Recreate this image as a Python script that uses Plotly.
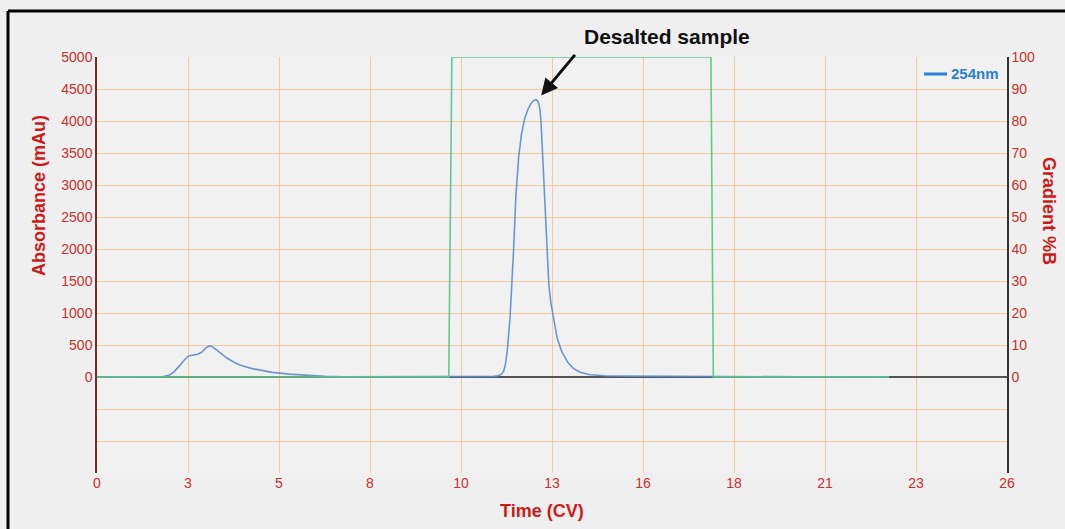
import plotly.graph_objects as go

# ---- data ----
time_cv = [0, 1.0, 1.6, 1.9, 2.05, 2.2, 2.35, 2.5, 2.62, 2.75, 2.9, 3.0, 3.1, 3.2, 3.28,
           3.4, 3.55, 3.7, 3.9, 4.1, 4.4, 4.7, 5.0, 5.5, 6.0, 6.5, 7.0, 7.5, 8.0, 8.5,
           9.0, 9.5, 10.0, 10.5, 11.0, 11.3, 11.45, 11.55, 11.62, 11.67, 11.72, 11.8,
           11.9, 11.97, 12.05, 12.13, 12.22, 12.31, 12.39, 12.47, 12.54, 12.59, 12.63,
           12.66, 12.69, 12.73, 12.78, 12.87, 12.91, 12.97, 13.04, 13.15, 13.28, 13.45,
           13.61, 13.8, 14.09, 14.5, 15.0, 16.0, 17.0, 18.0, 19.0, 20.0, 21.0, 22.0, 22.63]
abs_254 = [0, 0, 2, 8, 25, 80, 170, 270, 330, 345, 360, 390, 450, 485, 478,
           430, 360, 300, 235, 185, 135, 100, 72, 45, 22, 10, 5, 6, 12, 15,
           14, 10, 8, 6, 5, 8, 18, 40, 90, 200, 400, 917,
           1958, 2850, 3450, 3800, 4040, 4180, 4265, 4315, 4332, 4315, 4260,
           4160, 3950, 3520, 3000, 1958, 1437, 1150, 917, 600, 396, 230,
           135, 75, 35, 20, 14, 10, 8, 8, 6, 3, 2, 1, 1]

grad_time = [0, 10.05, 10.14, 17.54, 17.61, 22.63]
grad_pct = [0, 0, 100, 100, 0, 0]

x_tickvals = [0, 2.6, 5.2, 7.8, 10.4, 13.0, 15.6, 18.2, 20.8, 23.4, 26.0]
x_ticktext = ["0", "3", "5", "8", "10", "13", "16", "18", "21", "23", "26"]
y_tickvals = [-1500, -1000, -500, 0, 500, 1000, 1500, 2000, 2500, 3000, 3500, 4000, 4500, 5000]
y_ticktext = ["", "", "", "0", "500", "1000", "1500", "2000", "2500", "3000", "3500", "4000", "4500", "5000"]
y2_tickvals = [0, 10, 20, 30, 40, 50, 60, 70, 80, 90, 100]
y2_ticktext = [str(v) for v in y2_tickvals]

FONT = "Liberation Sans, Arial, sans-serif"
RED = "#c9302c"
TITLE_RED = "#cc1a1a"
GRID = "#f0cc9c"
BLUE = "rgba(95,140,200,0.9)"

fig = go.Figure()
fig.add_trace(go.Scatter(x=grad_time, y=grad_pct, yaxis="y2", mode="lines",
                         line=dict(color="#62c98f", width=1.6), showlegend=False,
                         hoverinfo="skip"))
fig.add_trace(go.Scatter(x=time_cv, y=abs_254, mode="lines", name="254nm",
                         line=dict(color=BLUE, width=1.6),
                         showlegend=False))

fig.update_layout(
    width=1065, height=529,
    margin=dict(l=97, r=58, t=57, b=56),
    paper_bgcolor="#efefef", plot_bgcolor="#f1f1f1",
    font=dict(family=FONT, color=RED, size=14),
    xaxis=dict(range=[0, 26], tickvals=x_tickvals, ticktext=x_ticktext,
               showgrid=True, gridcolor=GRID, gridwidth=1,
               zeroline=False, showline=False, ticks="",
               tickfont=dict(color=RED, size=14, family=FONT)),
    yaxis=dict(range=[-1500, 5000], tickvals=y_tickvals, ticktext=y_ticktext,
               showgrid=True, gridcolor=GRID, gridwidth=1,
               zeroline=True, zerolinecolor="#555555", zerolinewidth=1.6,
               showline=True, linecolor="#7a2a2a", linewidth=1.5, ticks="",
               tickfont=dict(color=RED, size=14, family=FONT)),
    yaxis2=dict(range=[-30, 100], tickvals=y2_tickvals, ticktext=y2_ticktext,
                overlaying="y", side="right", showgrid=False, zeroline=False,
                showline=True, linecolor="#333333", linewidth=1.5, ticks="",
                tickfont=dict(color=RED, size=14, family=FONT)),
)

def px_x(p):
    return (p - 97) / 910

def px_y(p):
    return (473 - p) / 416

# axis titles
fig.add_annotation(text="<b>Absorbance (mAu)</b>", xref="paper", yref="paper",
                   x=px_x(39), y=px_y(196), textangle=-90, showarrow=False,
                   xanchor="center", yanchor="middle",
                   font=dict(size=18, color=TITLE_RED, family=FONT))
fig.add_annotation(text="<b>Gradient %B</b>", xref="paper", yref="paper",
                   x=px_x(1049), y=px_y(211), textangle=90, showarrow=False,
                   xanchor="center", yanchor="middle",
                   font=dict(size=18, color=TITLE_RED, family=FONT))
fig.add_annotation(text="<b>Time (CV)</b>", xref="paper", yref="paper",
                   x=px_x(542), y=px_y(511), showarrow=False,
                   xanchor="center", yanchor="middle",
                   font=dict(size=18, color=TITLE_RED, family=FONT))

# legend (drawn as text + short line)
fig.add_annotation(text="<b>254nm</b>", xref="paper", yref="paper",
                   x=px_x(1001), y=px_y(74), showarrow=False,
                   xanchor="right", yanchor="middle",
                   font=dict(size=15, color="#2b7fd6", family=FONT))
fig.add_shape(type="line", xref="paper", yref="paper",
              x0=px_x(924), x1=px_x(947), y0=px_y(74), y1=px_y(74),
              line=dict(color="#2b7fd6", width=3))

# callout
fig.add_annotation(text="<b>Desalted sample</b>", xref="paper", yref="paper",
                   x=px_x(667), y=px_y(36), showarrow=False,
                   xanchor="center", yanchor="middle",
                   font=dict(size=21, color="#111111", family=FONT))
fig.add_annotation(text="", x=12.69, y=4400, xref="x", yref="y",
                   showarrow=True, arrowhead=2, arrowsize=1.1, arrowwidth=3,
                   arrowcolor="#111111", ax=35, ay=-42)

# frame lines (left and top)
fig.add_shape(type="line", xref="paper", yref="paper",
              x0=px_x(8), x1=px_x(8), y0=px_y(11), y1=px_y(560),
              line=dict(color="black", width=3))
fig.add_shape(type="line", xref="paper", yref="paper",
              x0=px_x(8), x1=px_x(1080), y0=px_y(11), y1=px_y(11),
              line=dict(color="black", width=3))

fig.write_html("out.html",
               config={"displayModeBar": False},
               post_script="document.body.style.margin='0px';"
                           "document.body.style.background='#efefef';"
                           "document.body.style.overflow='hidden';")
